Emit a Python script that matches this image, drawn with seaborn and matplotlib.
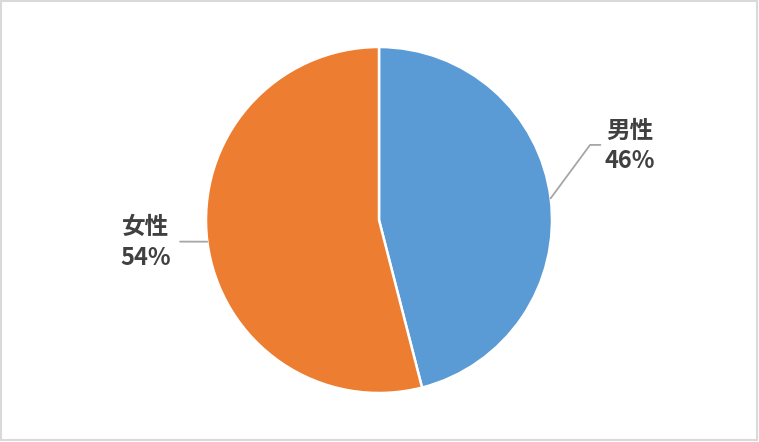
import matplotlib
matplotlib.use("Agg")
import numpy as np
import matplotlib.pyplot as plt
import seaborn as sns
from matplotlib.patches import Rectangle

# data
labels = ["男性", "女性"]
shares = [46, 54]
colors = ["#5B9BD5", "#ED7D31"]

sns.set_theme(style="white")
plt.rcParams["font.family"] = ["Noto Sans CJK JP", "DejaVu Sans"]

W, H = 759, 442
fig = plt.figure(figsize=(W / 100, H / 100), dpi=100)

# square axes so one data unit == pie radius (173 px)
cx, cy, r = 379, 220, 173
ax = fig.add_axes([(cx - r) / W, (H - cy - r) / H, 2 * r / W, 2 * r / H])

wedges, _ = ax.pie(shares, colors=sns.color_palette(colors), startangle=90,
                   counterclock=False, radius=1,
                   wedgeprops=dict(edgecolor="white", linewidth=1.8))
# pie() resets the limits, so set them afterwards
ax.set_xlim(-1, 1)
ax.set_ylim(-1, 1)
ax.set_aspect("equal")
ax.axis("off")

# outside labels with leader lines
text_pos = [(1.45, 0.43), (-1.35, -0.13)]
elbow = [(1.22, 0.434), (-1.15, -0.125)]
tail = [(1.28, 0.434), None]
for w, lab, val, tp, el, tl in zip(wedges, labels, shares, text_pos, elbow, tail):
    ang = np.deg2rad((w.theta1 + w.theta2) / 2)
    x0, y0 = np.cos(ang), np.sin(ang)
    xs, ys = [x0, el[0]], [y0, el[1]]
    if tl is not None:
        xs.append(tl[0])
        ys.append(tl[1])
    ax.plot(xs, ys, color="#a6a6a6", lw=1.3, clip_on=False)
    ax.text(tp[0], tp[1], f"{lab}\n{val}%", ha="center", va="center",
            fontsize=17, fontweight="bold", color="#404040",
            linespacing=1.32, clip_on=False)

# light chart frame
fig.patches.append(Rectangle((0.5 / W, 2.5 / H), (W - 3) / W, (H - 3.5) / H,
                             transform=fig.transFigure, fill=False,
                             edgecolor="#d9d9d9", linewidth=1.5))

fig.savefig("out.png", dpi=100)
